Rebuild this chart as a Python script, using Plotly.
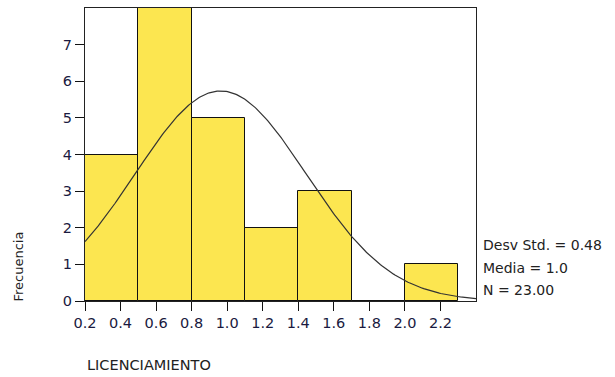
import numpy as np
import plotly.graph_objects as go

bin_edges = [0.2, 0.5, 0.8, 1.1, 1.4, 1.7, 2.0, 2.3]
counts = [4, 8, 5, 2, 3, 0, 1]
mean_val = 0.963
sd_val = 0.48
n_val = 23
x_ticks = [0.2, 0.4, 0.6, 0.8, 1.0, 1.2, 1.4, 1.6, 1.8, 2.0, 2.2]
y_ticks = [0, 1, 2, 3, 4, 5, 6, 7]
stats_lines = ["Desv Std. = 0.48", "Media = 1.0", "N = 23.00"]

centers = [(a + b) / 2 for a, b in zip(bin_edges[:-1], bin_edges[1:])]
widths = [b - a for a, b in zip(bin_edges[:-1], bin_edges[1:])]
bw = widths[0]

xc = np.linspace(0.2, 2.4, 300)
yc = n_val * bw / (sd_val * np.sqrt(2 * np.pi)) * np.exp(-(xc - mean_val) ** 2 / (2 * sd_val ** 2))

font = "DejaVu Sans"
fig = go.Figure()
fig.add_trace(go.Bar(x=centers, y=counts, width=widths,
                     marker=dict(color="#FCE650", line=dict(color="#111111", width=1)),
                     hoverinfo="skip"))
fig.add_trace(go.Scatter(x=xc, y=yc, mode="lines",
                         line=dict(color="#333333", width=1.2), hoverinfo="skip"))

fig.update_layout(
    width=615, height=377,
    margin=dict(l=85, r=139, t=8, b=76),
    plot_bgcolor="white", paper_bgcolor="white",
    showlegend=False, bargap=0,
    font=dict(family=font, size=13, color="#222222"),
)
fig.update_xaxes(range=[0.2, 2.4], tickvals=x_ticks,
                 ticktext=[f"{v:.1f}" for v in x_ticks],
                 ticks="outside", ticklen=9, tickcolor="#111111",
                 showline=True, linecolor="#222222", linewidth=1, mirror=True,
                 showgrid=False, zeroline=False,
                 tickfont=dict(family=font, size=14.5, color="#1a1a40"))
fig.update_yaxes(range=[0, 8], tickvals=y_ticks,
                 ticks="outside", ticklen=9, tickcolor="#111111",
                 showline=True, linecolor="#222222", linewidth=1, mirror=True,
                 showgrid=False, zeroline=False,
                 tickfont=dict(family=font, size=14.5, color="#1a1a40"))

fig.add_annotation(text="Frecuencia", xref="paper", yref="paper",
                   x=-0.171, y=0.118, xanchor="center", yanchor="middle",
                   textangle=-90, showarrow=False,
                   font=dict(family=font, size=13, color="#222222"))
fig.add_annotation(text="LICENCIAMIENTO", xref="paper", yref="paper",
                   x=0.0, y=-0.22, xanchor="left", yanchor="middle",
                   showarrow=False, font=dict(family=font, size=14.5, color="#222222"))
for i, t in enumerate(stats_lines):
    fig.add_annotation(text=t, xref="paper", yref="paper",
                       x=1.012, y=0.190 - i * 0.0765, xanchor="left", yanchor="middle",
                       showarrow=False, font=dict(family=font, size=14, color="#222222"))

fig.write_html("out.html", config={"displayModeBar": False},
               post_script="document.body.style.margin='0';document.body.style.overflow='hidden';")
